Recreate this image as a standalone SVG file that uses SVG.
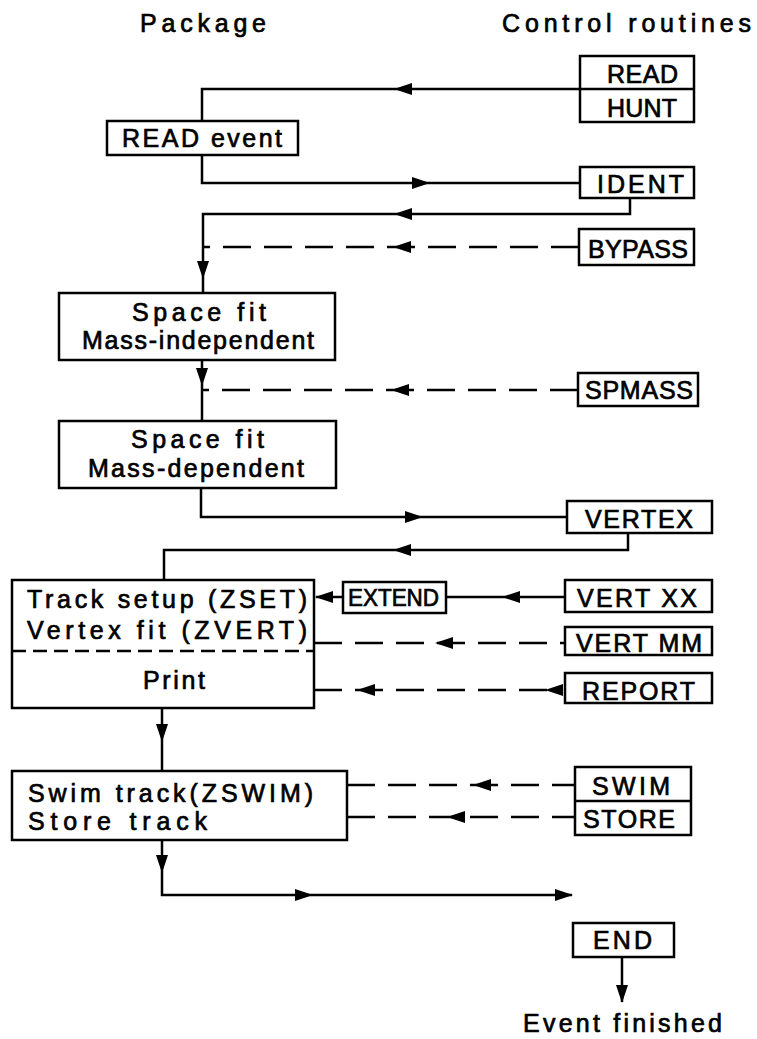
<svg xmlns="http://www.w3.org/2000/svg" xmlns:xlink="http://www.w3.org/1999/xlink" width="757" height="1039" viewBox="0 0 757 1039">
<style>
.box{fill:#fff;stroke:#000;stroke-width:2.5}
.ln{fill:none;stroke:#000;stroke-width:2.5}
.dash{fill:none;stroke:#000;stroke-width:2.5;stroke-dasharray:28 13}
.div{fill:none;stroke:#000;stroke-width:2.5;stroke-dasharray:14 7}
.t{font-family:"Liberation Sans",Arial,sans-serif;font-size:25px;fill:#000;stroke:#000;stroke-width:0.7}
.s{font-size:23px}
.ah{fill:#000}
</style>
<defs>
<path id="ah" class="ah" d="M0,0 L-18,-6 L-18,6 Z"/>
</defs>
<rect width="757" height="1039" fill="#fff"/>

<g id="headers">
<text class="t" x="140" y="32" textLength="126">Package</text>
<text class="t" x="502" y="32" textLength="249">Control routines</text>
</g>

<g id="connectors">
<path class="ln" d="M580,89 H202 V121"/>
<path class="ln" d="M202,155 V183 H580"/>
<path class="ln" d="M630,198 V214 H203 V293"/>
<path class="dash" d="M579,247 H203"/>
<path class="ln" d="M202,360 V421"/>
<path class="dash" d="M578,390 H202"/>
<path class="ln" d="M201,488 V517 H567"/>
<path class="ln" d="M628,533 V550 H164 V580"/>
<path class="ln" d="M343,597 H316"/>
<path class="ln" d="M565,597 H446"/>
<path class="dash" d="M314,643 H565"/>
<path class="dash" d="M314,690 H560"/>
<path class="ln" d="M162,708 V771"/>
<path class="dash" d="M347,785 H575"/>
<path class="dash" d="M347,817 H575"/>
<path class="ln" d="M162,840 V895 H572"/>
<path class="ln" d="M622,957 V1002"/>
<use href="#ah" transform="translate(394,89) rotate(180)"/>
<use href="#ah" transform="translate(430,183)"/>
<use href="#ah" transform="translate(394,214) rotate(180)"/>
<use href="#ah" transform="translate(203,279) rotate(90)"/>
<use href="#ah" transform="translate(393,247) rotate(180)"/>
<use href="#ah" transform="translate(202,386) rotate(90)"/>
<use href="#ah" transform="translate(391,390) rotate(180)"/>
<use href="#ah" transform="translate(423,517)"/>
<use href="#ah" transform="translate(393,550) rotate(180)"/>
<use href="#ah" transform="translate(315,597) rotate(180)"/>
<use href="#ah" transform="translate(502,597) rotate(180)"/>
<use href="#ah" transform="translate(435,643) rotate(180)"/>
<use href="#ah" transform="translate(357,690) rotate(180)"/>
<use href="#ah" transform="translate(545,690) rotate(180)"/>
<use href="#ah" transform="translate(162,742) rotate(90)"/>
<use href="#ah" transform="translate(473,785) rotate(180)"/>
<use href="#ah" transform="translate(447,817) rotate(180)"/>
<use href="#ah" transform="translate(162,873) rotate(90)"/>
<use href="#ah" transform="translate(313,895)"/>
<use href="#ah" transform="translate(573,895)"/>
<use href="#ah" transform="translate(622,1003) rotate(90)"/>
</g>

<g id="read-hunt">
<rect class="box" x="580" y="56" width="114" height="66"/>
<line class="ln" x1="580" y1="89" x2="694" y2="89"/>
<text class="t" x="607" y="83" textLength="71">READ</text>
<text class="t" x="607" y="117" textLength="70">HUNT</text>
</g>

<g id="read-event">
<rect class="box" x="107" y="121" width="191" height="34"/>
<text class="t" x="122" y="147" textLength="160">READ event</text>
</g>

<g id="ident">
<rect class="box" x="580" y="167" width="114" height="31"/>
<text class="t" x="597" y="193" textLength="87">IDENT</text>
</g>

<g id="bypass">
<rect class="box" x="579" y="229" width="115" height="36"/>
<text class="t" x="588" y="258" textLength="100">BYPASS</text>
</g>

<g id="space-fit-independent">
<rect class="box" x="59" y="293" width="276" height="67"/>
<text class="t" x="132" y="321" textLength="134">Space fit</text>
<text class="t" x="82" y="349" textLength="232">Mass-independent</text>
</g>

<g id="spmass">
<rect class="box" x="578" y="373" width="120" height="33"/>
<text class="t" x="585" y="399" textLength="108">SPMASS</text>
</g>

<g id="space-fit-dependent">
<rect class="box" x="59" y="421" width="277" height="67"/>
<text class="t" x="131" y="448" textLength="133">Space fit</text>
<text class="t" x="88" y="477" textLength="216">Mass-dependent</text>
</g>

<g id="vertex">
<rect class="box" x="567" y="501" width="145" height="32"/>
<text class="t" x="585" y="528" textLength="108">VERTEX</text>
</g>

<g id="track-setup">
<rect class="box" x="12" y="580" width="302" height="128"/>
<line class="div" x1="12" y1="651" x2="314" y2="651"/>
<text class="t" x="27" y="608" textLength="280">Track setup  (ZSET)</text>
<text class="t" x="27" y="639" textLength="280">Vertex fit (ZVERT)</text>
<text class="t" x="143" y="689" textLength="62">Print</text>
</g>

<g id="extend">
<rect class="box" x="343" y="582" width="103" height="31"/>
<text class="t s" x="348" y="606" textLength="91" lengthAdjust="spacingAndGlyphs">EXTEND</text>
</g>

<g id="vert-xx">
<rect class="box" x="565" y="580" width="147" height="32"/>
<text class="t" x="577" y="607" textLength="120">VERT XX</text>
</g>

<g id="vert-mm">
<rect class="box" x="565" y="627" width="147" height="28"/>
<text class="t" x="576" y="652" textLength="126">VERT MM</text>
</g>

<g id="report">
<rect class="box" x="565" y="673" width="147" height="30"/>
<text class="t" x="582" y="700" textLength="113">REPORT</text>
</g>

<g id="swim-track">
<rect class="box" x="12" y="771" width="335" height="69"/>
<text class="t" x="28" y="802" textLength="285">Swim track(ZSWIM)</text>
<text class="t" x="28" y="830" textLength="179">Store track</text>
</g>

<g id="swim-store">
<rect class="box" x="575" y="767" width="116" height="68"/>
<line class="ln" x1="575" y1="801" x2="691" y2="801"/>
<text class="t" x="592" y="795" textLength="78">SWIM</text>
<text class="t" x="583" y="828" textLength="92">STORE</text>
</g>

<g id="end">
<rect class="box" x="573" y="923" width="101" height="34"/>
<text class="t" x="593" y="949" textLength="59">END</text>
</g>

<g id="event-finished">
<text class="t" x="523" y="1032" textLength="199">Event finished</text>
</g>
</svg>
